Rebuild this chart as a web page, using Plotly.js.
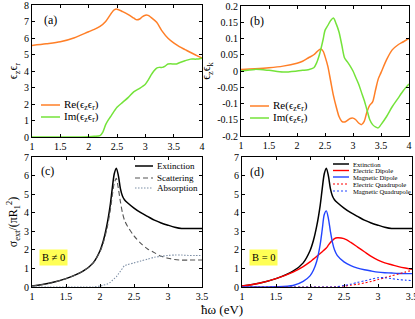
<!DOCTYPE html>
<html><head><meta charset="utf-8">
<script src="https://cdn.plot.ly/plotly-3.0.1.min.js"></script>
<style>html,body{margin:0;padding:0;background:#fff}#chart{width:415px;height:319px}</style>
</head><body><div id="chart"></div>
<script>
// Panel (a)
const xReA = [1,1.25,1.5,1.75,2,2.1,2.2,2.3,2.4,2.45,2.5,2.6,2.7,2.8,2.85,2.9,2.95,3.0,3.05,3.1,3.2,3.3,3.4,3.5,3.6,3.7,3.8,3.9,4];
const reA  = [5.55,5.65,5.77,6.02,6.38,6.52,6.7,7.0,7.5,7.7,7.75,7.6,7.42,7.2,7.1,7.15,7.3,7.38,7.37,7.25,6.95,6.4,5.98,5.7,5.48,5.3,5.12,4.95,4.78];
const xImA = [1,1.5,2,2.1,2.2,2.25,2.3,2.35,2.4,2.5,2.6,2.7,2.8,2.9,3.0,3.05,3.1,3.15,3.2,3.25,3.3,3.35,3.4,3.5,3.55,3.6,3.7,3.8,3.9,4];
const imA  = [0,0,0.02,0.04,0.08,0.3,0.75,1.05,1.3,1.8,2.1,2.4,2.75,2.95,3.2,3.45,3.75,4.0,4.18,4.22,4.22,4.3,4.42,4.43,4.43,4.5,4.62,4.72,4.72,4.78];
// Panel (b)
const xB  = [1,1.25,1.5,1.75,2,2.1,2.2,2.3,2.35,2.4,2.43,2.47,2.5,2.55,2.6,2.65,2.7,2.75,2.8,2.85,2.9,2.95,3.0,3.05,3.1,3.15,3.2,3.25,3.3,3.35,3.4,3.45,3.5,3.6,3.7,3.8,3.9,4];
const reB = [0.005,0.007,0.01,0.015,0.024,0.03,0.04,0.05,0.058,0.066,0.068,0.06,0.045,0.015,-0.03,-0.075,-0.11,-0.14,-0.155,-0.157,-0.152,-0.146,-0.145,-0.15,-0.16,-0.165,-0.155,-0.125,-0.105,-0.095,-0.06,-0.025,-0.005,0.035,0.065,0.08,0.09,0.1];
const imB = [0,0.005,0.002,-0.003,0,0.002,0.004,0.01,0.025,0.05,0.07,0.1,0.125,0.14,0.155,0.163,0.145,0.12,0.08,0.04,0.028,0.015,0,-0.02,-0.04,-0.065,-0.09,-0.12,-0.15,-0.165,-0.172,-0.175,-0.165,-0.14,-0.11,-0.085,-0.06,-0.04];
const tickValsB = [-0.2,-0.15,-0.1,-0.05,0,0.05,0.1,0.15,0.2];
const tickTextB = ['-0.2','-0.15','-0.1','-0.05','0','0.05','0.1','0.15','0.2'];
// Panels (c) and (d)
const xCD = [1,1.25,1.5,1.75,1.9,2.0,2.05,2.1,2.15,2.18,2.21,2.24,2.27,2.3,2.33,2.36,2.4,2.5,2.6,2.7,2.8,2.9,3.0,3.1,3.2,3.3,3.4,3.5];
const extinction = [0.05,0.2,0.45,0.85,1.3,1.95,2.5,3.3,4.4,5.3,6.1,6.4,6.0,5.3,4.9,4.7,4.55,4.25,4.0,3.8,3.6,3.45,3.33,3.22,3.15,3.15,3.15,3.15];
const scattering = [0.05,0.2,0.45,0.85,1.3,1.9,2.4,3.1,4.1,4.9,5.6,5.85,5.3,4.6,4.0,3.6,3.3,2.75,2.35,2.05,1.85,1.65,1.55,1.48,1.45,1.45,1.45,1.45];
const absorption = [0,0,0,0,0,0.05,0.1,0.15,0.25,0.35,0.45,0.55,0.7,0.85,1.0,1.15,1.2,1.3,1.4,1.5,1.6,1.65,1.7,1.72,1.72,1.7,1.7,1.7];
const elecDipole = [0.05,0.2,0.45,0.8,1.1,1.35,1.5,1.65,1.8,1.9,2.0,2.1,2.25,2.4,2.5,2.6,2.65,2.6,2.4,2.15,1.9,1.65,1.45,1.3,1.2,1.1,1.02,0.95];
const magDipole  = [0,0,0.01,0.08,0.3,0.6,0.9,1.4,2.3,3.1,3.9,4.1,3.7,3.0,2.4,2.0,1.7,1.35,1.15,1.02,0.93,0.86,0.8,0.77,0.75,0.73,0.72,0.72];
const elecQuad   = [0,0,0,0,0,0,0,0,0,0,0,0,0,0,0.005,0.01,0.02,0.05,0.1,0.15,0.22,0.3,0.4,0.5,0.6,0.7,0.8,0.9];
const magQuad    = [0,0,0,0,0,0,0,0,0,0,0,0,0,0,0,0,0.02,0.08,0.15,0.25,0.33,0.42,0.5,0.5,0.45,0.4,0.37,0.35];

const ORANGE = '#ff7f27', GREEN = '#74e33a';
const SERIF = 'Liberation Serif, Times New Roman, serif';
const W = 415, H = 319;
const px = v => v / W, py = v => 1 - v / H;

const S = {
  re:  {color:ORANGE,width:1.5},
  im:  {color:GREEN,width:1.5},
  ext: {color:'#000',width:1.5},
  sca: {color:'#555',width:1.1,dash:'5px,3px'},
  abs: {color:'#7d8fa6',width:1.1,dash:'1.5px,1.5px'},
  ed:  {color:'#ff0000',width:1.4},
  md:  {color:'#2244ff',width:1.4},
  eq:  {color:'#ff0000',width:1.1,dash:'2px,2px'},
  mq:  {color:'#2244ff',width:1.1,dash:'2px,2px'}
};
const mk = (x,y,xa,ya,name,st) => ({x:x, y:y, xaxis:xa, yaxis:ya, name:name, mode:'lines', showlegend:false,
  line:Object.assign({shape:'spline',smoothing:0.8}, st)});

const traces = [
  mk(xReA, reA, 'x','y','Re', S.re),
  mk(xImA, imA, 'x','y','Im', S.im),
  mk(xB, reB, 'x2','y2','Re', S.re),
  mk(xB, imB, 'x2','y2','Im', S.im),
  mk(xCD, extinction, 'x3','y3','Extinction', S.ext),
  mk(xCD, scattering, 'x3','y3','Scattering', S.sca),
  mk(xCD, absorption, 'x3','y3','Absorption', S.abs),
  mk(xCD, extinction, 'x4','y4','Extinction', S.ext),
  mk(xCD, elecDipole, 'x4','y4','Electric Dipole', S.ed),
  mk(xCD, magDipole, 'x4','y4','Magnetic Dipole', S.md),
  mk(xCD, elecQuad, 'x4','y4','Electric Quadrupole', S.eq),
  mk(xCD, magQuad, 'x4','y4','Magnetic Quadrupole', S.mq)
];

function ax(extra){
  return Object.assign({
    showline:true, mirror:'ticks', linecolor:'#000', linewidth:1,
    ticks:'inside', ticklen:3, tickcolor:'#000', showgrid:false, zeroline:false,
    tickfont:{family:SERIF,size:10,color:'#000'}, fixedrange:true, ticklabeloverflow:'allow'
  }, extra);
}
const ytitle = t => ({text:t, font:{family:SERIF,size:12,color:'#000'}, standoff:3});

// manual legends (sample line + label)
const shapes = [], annotations = [];
function legendItem(x0, x1, y, st, label, size){
  shapes.push({type:'line', xref:'paper', yref:'paper', x0:px(x0), x1:px(x1), y0:py(y), y1:py(y),
    line:{color:st.color, width:st.width, dash:st.dash || 'solid'}});
  annotations.push({text:label, xref:'paper', yref:'paper', x:px(x1+2), y:py(y), xanchor:'left', yanchor:'middle',
    showarrow:false, font:{family:SERIF,size:size,color:'#000'}});
}
legendItem(41, 60, 105, S.re, 'Re(ϵ<sub>z</sub>ϵ<sub>r</sub>)', 11);
legendItem(41, 60, 117, S.im, 'Im(ϵ<sub>z</sub>ϵ<sub>r</sub>)', 11);
legendItem(250, 269, 106, S.re, 'Re(ϵ<sub>z</sub>ϵ<sub>r</sub>)', 11);
legendItem(250, 269, 118, S.im, 'Im(ϵ<sub>z</sub>ϵ<sub>r</sub>)', 11);
legendItem(135, 153, 166, S.ext, 'Extinction', 9);
legendItem(135, 153, 178, S.sca, 'Scattering', 9);
legendItem(135, 153, 188, S.abs, 'Absorption', 9);
legendItem(333, 349, 164, S.ext, 'Extinction', 6.6);
legendItem(333, 349, 170.5, S.ed, 'Electric Dipole', 6.6);
legendItem(333, 349, 177, S.md, 'Magnetic Dipole', 6.6);
legendItem(333, 349, 184, S.eq, 'Electric Quadrupole', 6.6);
legendItem(333, 349, 191, S.mq, 'Magnetic Quadrupole', 6.6);

const lab = (t, x, y, size, extra) => Object.assign({text:t, x:px(x), y:py(y), xref:'paper', yref:'paper',
  xanchor:'center', yanchor:'middle', showarrow:false, font:{family:SERIF,size:size,color:'#000'}}, extra || {});
annotations.push(
  lab('(a)', 50, 20, 12), lab('(b)', 257, 21, 12), lab('(c)', 47, 171, 12), lab('(d)', 257, 172, 12),
  lab('B ≠ 0', 53, 257, 10.5, {bgcolor:'#ffff55', borderpad:2}),
  lab('B = 0', 263, 257, 10.5, {bgcolor:'#ffff55', borderpad:2}),
  lab('ħω (eV)', 222, 309, 13)
);

const layout = {
  width:W, height:H, margin:{l:0,r:0,t:0,b:0}, paper_bgcolor:'#fff', plot_bgcolor:'#fff',
  showlegend:false,
  xaxis: ax({domain:[px(32),px(202)], range:[1,4], dtick:0.5, anchor:'y'}),
  yaxis: ax({domain:[py(137),py(5)], range:[0,8], dtick:1, anchor:'x', title:ytitle('ϵ<sub>z</sub>ϵ<sub>r</sub>')}),
  xaxis2: ax({domain:[px(241),px(409)], range:[1,4], dtick:0.5, anchor:'y2'}),
  yaxis2: ax({domain:[py(136),py(6)], range:[-0.2,0.2], tickmode:'array', tickvals:tickValsB, ticktext:tickTextB, anchor:'x2', title:ytitle('ϵ<sub>z</sub>ϵ<sub>k</sub>')}),
  xaxis3: ax({domain:[px(32),px(202)], range:[1,3.5], dtick:0.5, anchor:'y3'}),
  yaxis3: ax({domain:[py(287),py(157)], range:[0,7], dtick:1, anchor:'x3', title:ytitle('σ<sub>ext</sub>/(πR<sub>1</sub><sup>2</sup>)')}),
  xaxis4: ax({domain:[px(242),px(412)], range:[1,3.5], dtick:0.5, anchor:'y4'}),
  yaxis4: ax({domain:[py(287),py(157)], range:[0,7], dtick:1, anchor:'x4'}),
  shapes: shapes,
  annotations: annotations
};
Plotly.newPlot('chart', traces, layout, {displayModeBar:false, staticPlot:true});
</script></body></html>
